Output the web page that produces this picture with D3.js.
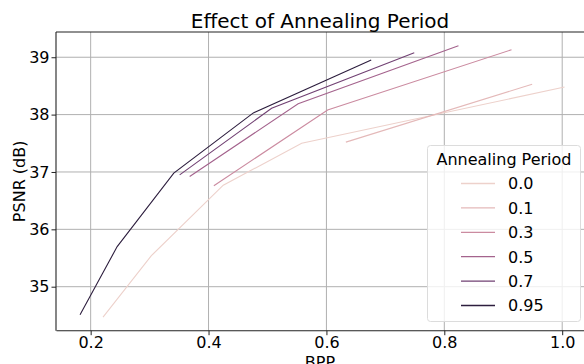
<!DOCTYPE html>
<html>
<head>
<meta charset="utf-8">
<script src="https://cdn.jsdelivr.net/npm/d3@7"></script>
<style>
  body { margin: 0; background: #fff; }
  text { font-family: "DejaVu Sans", sans-serif; fill: #000; }
</style>
</head>
<body>
<div id="chart"></div>
<script>
// annealing periods (hue) and their BPP / PSNR points
const periods = [0.0, 0.1, 0.3, 0.5, 0.7, 0.95];
const periodLabels = ["0.0", "0.1", "0.3", "0.5", "0.7", "0.95"];
const bpp_00 = [0.221, 0.303, 0.425, 0.558, 1.004];
const psnr_00 = [34.47, 35.54, 36.77, 37.50, 38.48];
const bpp_01 = [0.633, 0.949];
const psnr_01 = [37.52, 38.53];
const bpp_03 = [0.409, 0.602, 0.914];
const psnr_03 = [36.76, 38.08, 39.13];
const bpp_05 = [0.368, 0.552, 0.824];
const psnr_05 = [36.92, 38.19, 39.20];
const bpp_07 = [0.351, 0.507, 0.749];
const psnr_07 = [36.95, 38.11, 39.08];
const bpp_095 = [0.182, 0.245, 0.341, 0.476, 0.676];
const psnr_095 = [34.51, 35.70, 36.98, 38.03, 38.95];
const xTicks = [0.2, 0.4, 0.6, 0.8, 1.0];
const yTicks = [35, 36, 37, 38, 39];

const seriesX = [bpp_00, bpp_01, bpp_03, bpp_05, bpp_07, bpp_095];
const seriesY = [psnr_00, psnr_01, psnr_03, psnr_05, psnr_07, psnr_095];
const series = periods.map((p, i) => ({
  period: p,
  label: periodLabels[i],
  points: seriesX[i].map((x, j) => ({ x: x, y: seriesY[i][j] }))
}));

// seaborn "ch:" cubehelix colormap (light -> dark)
function cubehelix(t) {
  const x = 0.85 + (0.15 - 0.85) * t;
  const phi = 2 * Math.PI * (0 / 3 + 0.4 * x);
  const a = 0.8 * x * (1 - x) / 2;
  const c = Math.cos(phi), s = Math.sin(phi);
  const r = x + a * (-0.14861 * c + 1.78277 * s);
  const g = x + a * (-0.29227 * c - 0.90649 * s);
  const b = x + a * (1.97294 * c);
  const cl = v => Math.round(Math.max(0, Math.min(1, v)) * 255);
  return d3.rgb(cl(r), cl(g), cl(b)).formatHex();
}
const hueNorm = d3.scaleLinear().domain(d3.extent(periods)).range([0, 1]);
const color = p => cubehelix(hueNorm(p));

const W = 584, H = 364;
const margin = { top: 32, right: 0, bottom: 33.3, left: 56 };
const width = W - margin.left - margin.right;
const height = H - margin.top - margin.bottom;

const svg = d3.select("#chart").append("svg")
  .attr("width", W)
  .attr("height", H);

const x = d3.scaleLinear().domain([0.1412, 1.037]).range([0, width]);
const y = d3.scaleLinear().domain([34.233, 39.44]).range([height, 0]);

const g = svg.append("g")
  .attr("transform", "translate(" + margin.left + "," + margin.top + ")");

g.append("clipPath").attr("id", "clip")
  .append("rect").attr("width", width).attr("height", height);

// grid
g.append("g").selectAll("line").data(xTicks).enter().append("line")
  .attr("x1", d => x(d)).attr("x2", d => x(d))
  .attr("y1", 0).attr("y2", height)
  .attr("stroke", "#b0b0b0").attr("stroke-width", 1);
g.append("g").selectAll("line").data(yTicks).enter().append("line")
  .attr("x1", 0).attr("x2", width)
  .attr("y1", d => y(d)).attr("y2", d => y(d))
  .attr("stroke", "#b0b0b0").attr("stroke-width", 1);

// lines
const line = d3.line().x(d => x(d.x)).y(d => y(d.y));
g.append("g").attr("clip-path", "url(#clip)")
  .selectAll("path").data(series).enter().append("path")
  .attr("d", d => line(d.points))
  .attr("fill", "none")
  .attr("stroke", d => color(d.period))
  .attr("stroke-width", 1.1);

// axes
const xAxis = g.append("g")
  .attr("transform", "translate(0," + height + ")")
  .call(d3.axisBottom(x).tickValues(xTicks).tickFormat(d3.format(".1f")).tickSize(4.5).tickPadding(1.5));
const yAxis = g.append("g")
  .call(d3.axisLeft(y).tickValues(yTicks).tickFormat(d3.format("d")).tickSize(4.5).tickPadding(2));
[xAxis, yAxis].forEach(a => {
  a.selectAll("text").style("font-size", "16px").style("font-family", "DejaVu Sans");
  a.selectAll("line").attr("stroke", "#222");
  a.select(".domain").attr("stroke", "#222").attr("stroke-width", 1.1);
});
xAxis.select(".domain").attr("d", "M0.5,0H" + width);
yAxis.select(".domain").attr("d", "M0,0V" + height);

// top spine
g.append("line")
  .attr("x1", 0).attr("x2", width).attr("y1", 0).attr("y2", 0)
  .attr("stroke", "#222").attr("stroke-width", 1.1);

// title and labels
svg.append("text")
  .attr("x", margin.left + width / 2).attr("y", 28)
  .attr("text-anchor", "middle").style("font-size", "20px")
  .text("Effect of Annealing Period");
svg.append("text")
  .attr("transform", "translate(25," + (margin.top + height / 2) + ") rotate(-90)")
  .attr("text-anchor", "middle").style("font-size", "16px")
  .text("PSNR (dB)");
svg.append("text")
  .attr("x", margin.left + width / 2).attr("y", 368)
  .attr("text-anchor", "middle").style("font-size", "16px")
  .text("BPP");

// legend
const legend = svg.append("g").attr("transform", "translate(427,145)");
legend.append("rect")
  .attr("x", 0.5).attr("y", 0.5).attr("width", 153).attr("height", 176)
  .attr("rx", 3)
  .attr("fill", "#fff").attr("fill-opacity", 0.8)
  .attr("stroke", "#dcdcdc").attr("stroke-width", 1);
legend.append("text")
  .attr("x", 77).attr("y", 20)
  .attr("text-anchor", "middle").style("font-size", "16px")
  .text("Annealing Period");
const items = legend.selectAll(".item").data(series).enter().append("g")
  .attr("class", "item")
  .attr("transform", (d, i) => "translate(0," + (38.5 + i * 24.4) + ")");
items.append("line")
  .attr("x1", 34).attr("x2", 68).attr("y1", 0).attr("y2", 0)
  .attr("stroke", d => color(d.period)).attr("stroke-width", 1.3);
items.append("text")
  .attr("x", 81).attr("y", 5.8)
  .style("font-size", "16px")
  .text(d => d.label);
</script>
</body>
</html>
